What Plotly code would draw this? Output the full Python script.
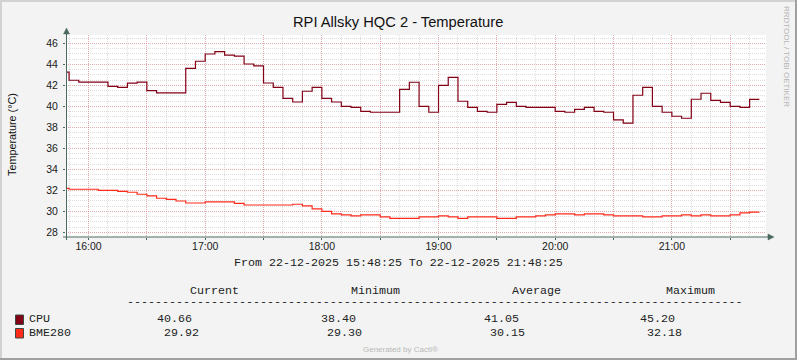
import pandas as pd
import plotly.graph_objects as go

# ---------------- data ----------------
day = "2025-12-22"
start_time = "15:45"          # first 5-minute consolidation interval
step = "5min"
range_start = "2025-12-22 15:48:25"
range_end = "2025-12-22 21:48:25"

cpu = [43.25, 42.48, 42.3, 42.3, 42.3, 41.9, 41.8, 42.2, 42.3, 41.5, 41.27, 41.27,
       41.27, 43.62, 44.29, 44.98, 45.2, 44.87, 44.78, 44.03, 43.84, 42.22, 41.81, 40.76,
       40.41, 41.43, 41.81, 40.76, 40.41, 40.0, 39.9, 39.52, 39.43, 39.43, 39.43, 41.62,
       42.29, 40.0, 39.43, 42.0, 42.76, 40.48, 39.9, 39.52, 39.43, 40.19, 40.38, 40.0,
       39.9, 39.9, 39.9, 39.52, 39.43, 39.71, 39.9, 39.52, 39.43, 38.7, 38.4, 41.05,
       41.81, 40.0, 39.43, 39.05, 38.86, 40.67, 41.24, 40.57, 40.38, 40.0, 39.9, 40.66]

bme280 = [32.18, 32.1, 32.1, 32.1, 32.0, 32.0, 31.9, 31.81, 31.62, 31.46, 31.24, 31.14,
          30.98, 30.79, 30.79, 30.89, 30.89, 30.89, 30.76, 30.6, 30.6, 30.6, 30.6, 30.6,
          30.67, 30.51, 30.22, 30.0, 29.75, 29.65, 29.56, 29.65, 29.65, 29.46, 29.33, 29.33,
          29.33, 29.46, 29.46, 29.56, 29.46, 29.33, 29.46, 29.46, 29.46, 29.33, 29.33, 29.46,
          29.46, 29.56, 29.65, 29.75, 29.75, 29.65, 29.75, 29.75, 29.65, 29.56, 29.56, 29.56,
          29.46, 29.46, 29.56, 29.56, 29.65, 29.56, 29.65, 29.56, 29.56, 29.65, 29.84, 29.92]

series_names = ["CPU", "BME280"]
series_colors = ["#840016", "#ff2a1a"]
stat_headers = ["Current", "Minimum", "Average", "Maximum"]
stats_cpu = ["40.66", "38.40", "41.05", "45.20"]
stats_bme = ["29.92", "29.30", "30.15", "32.18"]

y_ticks = [28, 30, 32, 34, 36, 38, 40, 42, 44, 46]
x_tick_times = ["16:00", "16:30", "17:00", "17:30", "18:00", "18:30", "19:00",
                "19:30", "20:00", "20:30", "21:00", "21:30"]
x_tick_labels = ["16:00", "", "17:00", "", "18:00", "", "19:00", "", "20:00", "", "21:00", ""]

title_text = "RPI Allsky HQC 2 - Temperature"
y_title = "Temperature (°C)"
period_text = "From 22-12-2025 15:48:25 To 22-12-2025 21:48:25"

# ---------------- geometry ----------------
W, H = 797, 360
PL, PT, PW, PH = 66, 35, 700, 202


def fx(px):
    return (px - PL) / PW


def fy(py):
    return (PT + PH - py) / PH


times = pd.date_range(f"{day} {start_time}", periods=len(cpu), freq=step)
x_steps = list(times) + [times[-1] + pd.Timedelta(step)]

fig = go.Figure()
for vals, name, col in [(cpu, series_names[0], series_colors[0]),
                        (bme280, series_names[1], series_colors[1])]:
    fig.add_trace(go.Scatter(x=x_steps, y=list(vals) + [vals[-1]], mode="lines",
                             line=dict(color=col, width=1.2, shape="hv"),
                             name=name, showlegend=False, hoverinfo="skip"))

axis_col = "#4b6a5e"
major_grid = "rgba(232,110,110,0.45)"
minor_grid = "rgba(170,170,170,0.40)"

fig.update_layout(
    width=W, height=H,
    margin=dict(l=PL, r=W - PL - PW, t=PT, b=H - PT - PH, pad=0),
    paper_bgcolor="#f3f3f3", plot_bgcolor="#ffffff",
    font=dict(family="Liberation Sans, Arial, sans-serif", size=10.5, color="#222222"),
    showlegend=False,
    xaxis=dict(
        range=[range_start, range_end], type="date",
        tickmode="array",
        tickvals=[f"{day} {t}" for t in x_tick_times], ticktext=x_tick_labels,
        showgrid=True, gridcolor=major_grid, griddash="1px,1px", gridwidth=1,
        ticks="outside", ticklen=2, tickcolor=axis_col,
        minor=dict(dtick=600000, tick0=f"{day} 16:00", showgrid=True,
                   gridcolor=minor_grid, griddash="1px,1px", gridwidth=1),
        showline=False, zeroline=False, fixedrange=True,
        tickfont=dict(size=10.5, color="#1a1a1a"),
        ticklabelstandoff=-3,
    ),
    yaxis=dict(
        range=[27.55, 46.79],
        tickmode="array", tickvals=y_ticks,
        showgrid=True, gridcolor=major_grid, griddash="1px,1px", gridwidth=1,
        ticks="outside", ticklen=2, tickcolor=axis_col,
        minor=dict(dtick=0.5, tick0=28, showgrid=True,
                   gridcolor=minor_grid, griddash="1px,1px", gridwidth=1),
        showline=False, zeroline=False, fixedrange=True,
        tickfont=dict(size=10.5, color="#1a1a1a"),
        ticklabelstandoff=3,
    ),
)

shapes = []
# image border (3D look)
shapes.append(dict(type="line", xref="paper", yref="paper", x0=fx(0), x1=fx(W), y0=fy(1), y1=fy(1),
                   line=dict(color="#d2d2d2", width=2)))
shapes.append(dict(type="line", xref="paper", yref="paper", x0=fx(1), x1=fx(1), y0=fy(0), y1=fy(H),
                   line=dict(color="#d2d2d2", width=2)))
shapes.append(dict(type="line", xref="paper", yref="paper", x0=fx(0), x1=fx(W), y0=fy(H - 1), y1=fy(H - 1),
                   line=dict(color="#a0a0a0", width=2)))
shapes.append(dict(type="line", xref="paper", yref="paper", x0=fx(W - 1), x1=fx(W - 1), y0=fy(0), y1=fy(H),
                   line=dict(color="#a0a0a0", width=2)))
# axes with arrows
shapes.append(dict(type="line", xref="paper", yref="paper", x0=fx(63), x1=fx(769), y0=fy(237), y1=fy(237),
                   line=dict(color=axis_col, width=1)))
shapes.append(dict(type="line", xref="paper", yref="paper", x0=fx(66.5), x1=fx(66.5), y0=fy(240), y1=fy(32),
                   line=dict(color=axis_col, width=1)))
shapes.append(dict(type="path", xref="paper", yref="paper",
                   path=f"M {fx(768)} {fy(234)} L {fx(774)} {fy(237)} L {fx(768)} {fy(240)} Z",
                   fillcolor=axis_col, line=dict(color=axis_col, width=0.5)))
shapes.append(dict(type="path", xref="paper", yref="paper",
                   path=f"M {fx(63.5)} {fy(34)} L {fx(66.5)} {fy(28)} L {fx(69.5)} {fy(34)} Z",
                   fillcolor=axis_col, line=dict(color=axis_col, width=0.5)))
# legend colour boxes
for col, (y0, y1) in zip(series_colors, [(315, 324.5), (328.5, 338)]):
    shapes.append(dict(type="rect", xref="paper", yref="paper", x0=fx(15.5), x1=fx(23.5),
                       y0=fy(y1), y1=fy(y0), fillcolor=col, line=dict(color="#3a4a40", width=1)))
fig.update_layout(shapes=shapes)

mono = dict(family="Liberation Mono, Courier New, monospace", size=11.67, color="#222222")
ann = []
ann.append(dict(text=title_text, x=fx(398), y=fy(22), xref="paper", yref="paper",
                showarrow=False, xanchor="center", yanchor="middle",
                font=dict(family="Liberation Sans, Arial, sans-serif", size=14.7, color="#111111")))
ann.append(dict(text=y_title, x=fx(12), y=fy(135), xref="paper", yref="paper", textangle=-90,
                showarrow=False, xanchor="center", yanchor="middle",
                font=dict(family="Liberation Sans, Arial, sans-serif", size=10.8, color="#111111")))
ann.append(dict(text="RRDTOOL / TOBI OETIKER", x=fx(787), y=fy(56), xref="paper", yref="paper",
                textangle=90, showarrow=False, xanchor="center", yanchor="middle",
                font=dict(family="Liberation Sans, Arial, sans-serif", size=8, color="#b4b4b4")))
ann.append(dict(text=period_text, x=fx(398), y=fy(263), xref="paper", yref="paper",
                showarrow=False, xanchor="center", yanchor="middle", font=mono))
for h, left in zip(stat_headers, [191, 352, 513, 667]):
    ann.append(dict(text=h, x=fx(left - 2), y=fy(291), xref="paper", yref="paper",
                    showarrow=False, xanchor="left", yanchor="middle", font=mono, borderpad=0))
ann.append(dict(text="-" * 88, x=fx(128 - 2), y=fy(302), xref="paper", yref="paper",
                showarrow=False, xanchor="left", yanchor="middle", font=mono, borderpad=0))
rows = [(series_names[0], stats_cpu, 319, [158, 322, 485, 641]),
        (series_names[1], stats_bme, 333, [165, 328, 491, 648])]
for name, stats, yy, lefts in rows:
    ann.append(dict(text=name, x=fx(30 - 2), y=fy(yy), xref="paper", yref="paper",
                    showarrow=False, xanchor="left", yanchor="middle", font=mono, borderpad=0))
    for s, left in zip(stats, lefts):
        ann.append(dict(text=s, x=fx(left - 2), y=fy(yy), xref="paper", yref="paper",
                        showarrow=False, xanchor="left", yanchor="middle", font=mono, borderpad=0))
ann.append(dict(text="Generated by Cacti®", x=fx(400), y=fy(349), xref="paper", yref="paper",
                showarrow=False, xanchor="center", yanchor="middle",
                font=dict(family="Liberation Sans, Arial, sans-serif", size=8, color="#b8b8b8")))
fig.update_layout(annotations=ann)

fig.write_html("out.html", config={"displayModeBar": False},
               post_script="document.body.style.margin='0';document.body.style.padding='0';"
                           "document.documentElement.style.overflow='hidden';")
